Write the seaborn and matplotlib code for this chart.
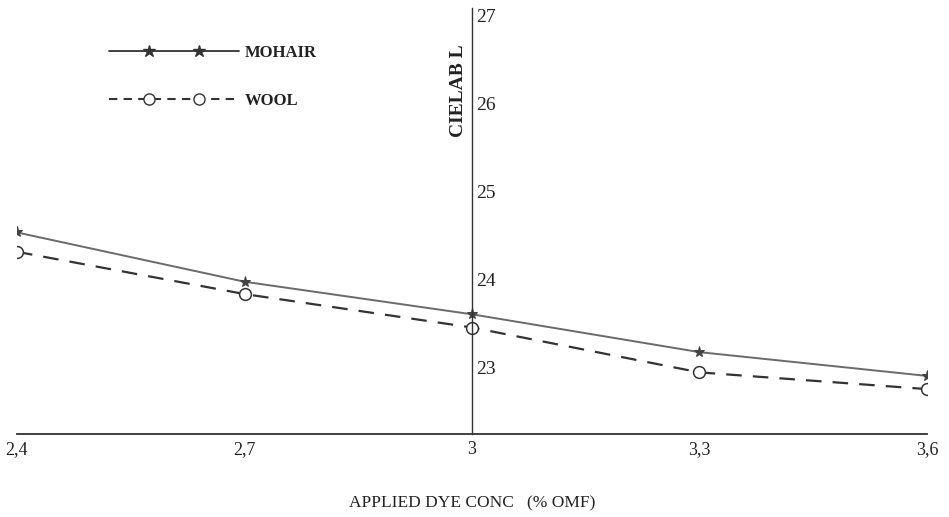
import matplotlib
matplotlib.use("Agg")
import matplotlib.pyplot as plt
import seaborn as sns
import pandas as pd
from matplotlib.lines import Line2D
from matplotlib.legend_handler import HandlerLine2D, HandlerTuple

conc = [2.4, 2.7, 3.0, 3.3, 3.6]
mohair = [24.53, 23.97, 23.60, 23.17, 22.90]
wool = [24.31, 23.83, 23.45, 22.94, 22.75]
x_ticks = [2.4, 2.7, 3.0, 3.3, 3.6]
x_ticklabels = ["2,4", "2,7", "3", "3,3", "3,6"]
y_ticks = [23, 24, 25, 26, 27]

sns.set_style("white")
plt.rcParams["font.family"] = ["Liberation Serif", "DejaVu Serif"]

df = pd.DataFrame({
    "conc": conc * 2,
    "L": mohair + wool,
    "fibre": ["MOHAIR"] * len(conc) + ["WOOL"] * len(conc),
})

fig = plt.figure(figsize=(9.49, 5.17), dpi=100)
ax = fig.add_axes([17 / 949, 1 - 434 / 517, 910 / 949, 426 / 517])

sns.lineplot(data=df[df.fibre == "MOHAIR"], x="conc", y="L", ax=ax,
             color="#6a6a6a", lw=1.4, marker="*", markersize=8,
             markerfacecolor="#444444", markeredgecolor="#444444", legend=False)
sns.lineplot(data=df[df.fibre == "WOOL"], x="conc", y="L", ax=ax,
             color="#333333", lw=1.6, linestyle=(0, (7, 5)), marker="o", markersize=8.5,
             markerfacecolor="white", markeredgecolor="#333333", markeredgewidth=1.1,
             legend=False)

ax.set_xlim(2.4, 3.6)
ax.set_ylim(22.24, 27.08)

for s in ["top", "right"]:
    ax.spines[s].set_visible(False)
ax.spines["left"].set_position(("data", 3.0))
ax.spines["left"].set_color("#333333")
ax.spines["bottom"].set_color("#333333")
ax.spines["left"].set_linewidth(1.0)
ax.spines["bottom"].set_linewidth(1.3)

ax.set_xticks(x_ticks)
ax.set_xticklabels(x_ticklabels, fontsize=13, color="#222222")
ax.set_yticks(y_ticks)
ax.set_yticklabels([str(v) for v in y_ticks], fontsize=14, ha="left",
                   color="#222222")
ax.tick_params(axis="y", length=0, pad=-3)
ax.tick_params(axis="x", length=0, pad=5)

ax.set_xlabel("APPLIED DYE CONC   (% OMF)", fontsize=12.5, labelpad=27,
              color="#222222")
ax.set_ylabel("CIELAB L", fontsize=14, fontweight="bold", color="#222222")
ax.yaxis.set_label_coords(0.494, 0.805)

m_line = Line2D([], [], color="#333333", lw=1.3)
m_mark = Line2D([], [], linestyle="none", marker="*", markersize=9,
                markerfacecolor="#333333", markeredgecolor="#333333")
w_line = Line2D([], [], color="#333333", lw=1.5, linestyle=(0, (4, 3)))
w_mark = Line2D([], [], linestyle="none", marker="o", markersize=8,
                markerfacecolor="white", markeredgecolor="#333333")
hmap = {
    m_mark: HandlerLine2D(marker_pad=2.4, numpoints=2),
    w_mark: HandlerLine2D(marker_pad=2.4, numpoints=2),
    m_line: HandlerLine2D(marker_pad=0, numpoints=2),
    w_line: HandlerLine2D(marker_pad=0, numpoints=2),
    tuple: HandlerTuple(ndivide=1, pad=0),
}
leg = ax.legend([(m_line, m_mark), (w_line, w_mark)], ["MOHAIR", "WOOL"],
                handler_map=hmap, loc="upper left",
                bbox_to_anchor=(0.085, 0.948), frameon=False,
                handlelength=7.8, labelspacing=1.9, handletextpad=0.3,
                prop={"family": "Liberation Serif", "weight": "bold", "size": 12})
for t in leg.get_texts():
    t.set_color("#222222")

fig.savefig("out.png", dpi=100)
